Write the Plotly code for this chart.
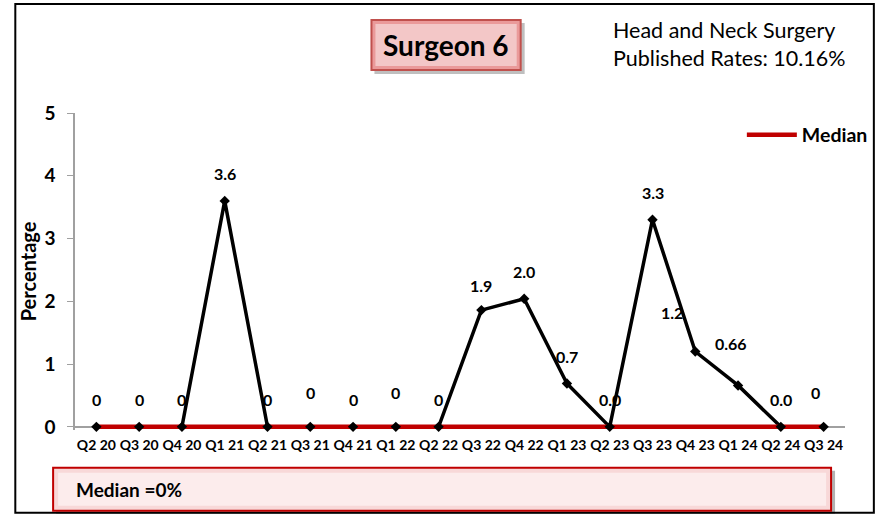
import plotly.graph_objects as go

# ---- data ----
quarters = ["Q2 20", "Q3 20", "Q4 20", "Q1 21", "Q2 21", "Q3 21", "Q4 21", "Q1 22", "Q2 22",
            "Q3 22", "Q4 22", "Q1 23", "Q2 23", "Q3 23", "Q4 23", "Q1 24", "Q2 24", "Q3 24"]
rates = [0, 0, 0, 3.6, 0, 0, 0, 0, 0, 1.86, 2.04, 0.69, 0, 3.3, 1.2, 0.66, 0, 0]
labels = ["0", "0", "0", "3.6", "0", "0", "0", "0", "0", "1.9", "2.0", "0.7", "0.0", "3.3",
          "1.2", "0.66", "0.0", "0"]
median_vals = [0] * len(quarters)

title_text = "Surgeon 6"
info_text = "Head and Neck Surgery<br>Published Rates: 10.16%"
median_box_text = "Median =0%"

# ---- label offsets (style) ----
label_dy = [27, 27, 27, 27, 27, 34, 27, 34, 27, 25, 27, 27, 27, 27, 39, 42, 27, 34]
label_dx = [0, 0, 0, 0, 0, 0, 0, 0, 0, 0, 0, 0, 0, 0, -23, -7, 0, -8]

W, H = 885, 517
YMIN, YMAX = -0.05, 5
UNIT = 62.8
L, R, T = 75, 36, 113
PH = UNIT * (YMAX - YMIN)
B = H - T - PH
PW = W - L - R

def px(x):
    return (x - L) / PW

def py(y):
    return (H - B - y) / PH

FONT = "Lato, 'Open Sans', sans-serif"
RED = "#C00000"

fig = go.Figure()

fig.add_trace(go.Scatter(x=quarters, y=rates, mode="lines",
                         line=dict(color="black", width=3.5), showlegend=False,
                         hoverinfo="skip"))
fig.add_trace(go.Scatter(x=quarters, y=median_vals, mode="lines", name="Median",
                         line=dict(color=RED, width=4.5)))
fig.add_trace(go.Scatter(x=quarters, y=rates, mode="markers",
                         marker=dict(symbol="diamond", size=8, color="black"),
                         showlegend=False, cliponaxis=False))

for q, v, t, dy, dx in zip(quarters, rates, labels, label_dy, label_dx):
    fig.add_annotation(x=q, y=v, text="<b>%s</b>" % t, showarrow=False,
                       yshift=dy, xshift=dx, font=dict(family=FONT, size=16, color="black"))

shapes = []
# outer frame
shapes.append(dict(type="rect", xref="paper", yref="paper", x0=px(15), x1=px(878),
                   y0=py(513), y1=py(4), line=dict(color="black", width=2),
                   fillcolor="rgba(0,0,0,0)", layer="below"))
# title box shadow + box
shapes.append(dict(type="rect", xref="paper", yref="paper", x0=px(376), x1=px(527),
                   y0=py(74), y1=py(23), line=dict(width=0), fillcolor="rgba(0,0,0,0.25)"))
shapes.append(dict(type="rect", xref="paper", yref="paper", x0=px(373), x1=px(523),
                   y0=py(70), y1=py(20), line=dict(color="#C0504D", width=2),
                   fillcolor="#EA9A9A"))
shapes.append(dict(type="rect", xref="paper", yref="paper", x0=px(377), x1=px(519),
                   y0=py(66), y1=py(24), line=dict(width=0),
                   fillcolor="rgba(255,255,255,0.45)"))
# median box shadow + box
shapes.append(dict(type="rect", xref="paper", yref="paper", x0=px(56), x1=px(839),
                   y0=py(514), y1=py(471), line=dict(width=0), fillcolor="rgba(0,0,0,0.3)"))
shapes.append(dict(type="rect", xref="paper", yref="paper", x0=px(53), x1=px(835),
                   y0=py(511), y1=py(468), line=dict(color=RED, width=2),
                   fillcolor="#F8D8D8"))
shapes.append(dict(type="rect", xref="paper", yref="paper", x0=px(58), x1=px(830),
                   y0=py(506), y1=py(473), line=dict(width=0),
                   fillcolor="rgba(255,255,255,0.5)"))
fig.update_layout(shapes=shapes)

fig.add_annotation(xref="paper", yref="paper", x=px(448), y=py(45), yanchor="middle",
                   text="<b>%s</b>" % title_text,
                   showarrow=False, font=dict(family=FONT, size=28, color="black"))
fig.add_annotation(xref="paper", yref="paper", x=px(614), y=py(44), xanchor="left",
                   yanchor="middle", text=info_text, showarrow=False, align="left",
                   font=dict(family=FONT, size=21.5, color="black"))
fig.add_annotation(xref="paper", yref="paper", x=px(74), y=py(490), xanchor="left",
                   yanchor="middle", text="<b>%s</b>" % median_box_text, showarrow=False,
                   font=dict(family=FONT, size=19, color="black"))

fig.update_layout(
    width=W, height=H,
    margin=dict(l=L, r=R, t=T, b=B, pad=0),
    paper_bgcolor="white", plot_bgcolor="white",
    font=dict(family=FONT, color="black"),
    showlegend=True,
    legend=dict(x=px(877), y=py(135), xanchor="right", yanchor="middle",
                bgcolor="rgba(0,0,0,0)",
                font=dict(family=FONT, size=19.5, color="black", weight="bold"),
                itemwidth=50),
    xaxis=dict(type="category", range=[-0.5, len(quarters) - 0.5], showgrid=False,
               showline=False, ticks="",
               tickfont=dict(family=FONT, size=14, color="black"),
               tickangle=0, zeroline=False, fixedrange=True, ticklabelstandoff=5,
               tickvals=quarters, ticktext=["<b>%s</b>" % q for q in quarters]),
    yaxis=dict(range=[YMIN, YMAX], showgrid=False, showline=True, linecolor="#A0A0A0",
               linewidth=1.5, ticks="outside", ticklen=6, tickcolor="#A0A0A0",
               tickfont=dict(family=FONT, size=19, color="black"),
               zeroline=True, zerolinecolor="#A0A0A0", zerolinewidth=1.5,
               ticklabelstandoff=8, fixedrange=True,
               tickvals=[0, 1, 2, 3, 4, 5], ticktext=["<b>%d</b>" % v for v in range(6)],
               title=dict(text="<b>Percentage</b>", font=dict(family=FONT, size=20),
                          standoff=2)),
)

fig.write_html("out.html", config={"displayModeBar": False},
               post_script="document.body.style.margin='0';")
